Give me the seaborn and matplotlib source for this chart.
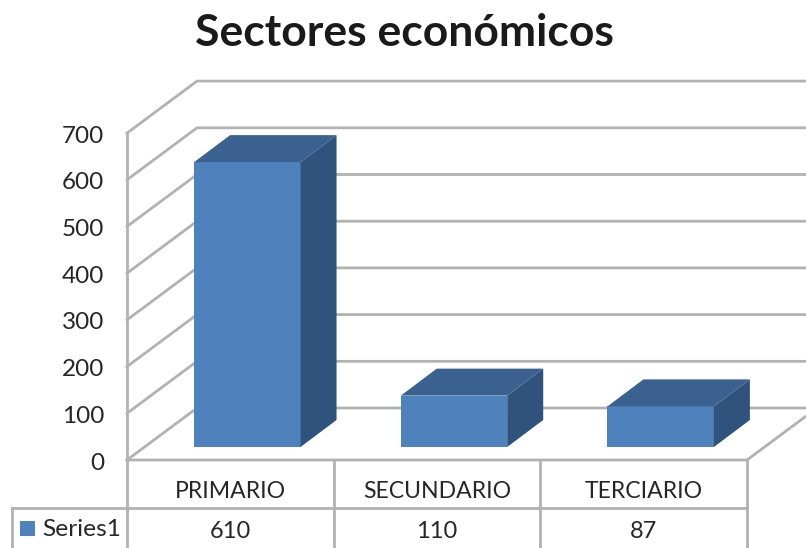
import matplotlib
matplotlib.use('Agg')
import matplotlib.pyplot as plt
import seaborn as sns
import pandas as pd

categories = ['PRIMARIO', 'SECUNDARIO', 'TERCIARIO']
values = [610, 110, 87]
series_name = 'Series1'
y_ticks = [0, 100, 200, 300, 400, 500, 600, 700]
title = 'Sectores económicos'

W, H = 806, 548
plt.rcParams['font.family'] = ['Lato', 'DejaVu Sans']
FRONT = '#4f81bd'
TOP = '#3a618f'
SIDE = '#30537d'
GRID = '#b2b2b2'
INK = '#262626'

# layout in pixels
x0, x1 = 127, 747
y0 = 460
step = 46.7
dx, dy = 70, 52
cell = (x1 - x0) / 3

fig = plt.figure(figsize=(W / 100, H / 100), dpi=100)

# background: walls, grid and data table, in pixel coords
bg = fig.add_axes([0, 0, 1, 1])
bg.set_xlim(0, W)
bg.set_ylim(H, 0)
bg.axis('off')

lw = 2.0
for t in y_ticks:
    y = y0 - step * t / 100
    bg.plot([x0, x0 + dx, W], [y, y - dy, y - dy], color=GRID, lw=lw, solid_joinstyle='miter')
    bg.text(104, y + 3, str(t), ha='right', va='center', fontsize=17.5, color=INK)

y_top = y0 - step * max(y_ticks) / 100
bg.plot([x0, x0], [y_top, H], color=GRID, lw=lw)
bg.plot([x0, x1, W], [y0, y0, y0 - dy * (W - x1) / dx], color=GRID, lw=lw)

# data table
row = 508
bg.plot([12, x1], [row, row], color=GRID, lw=lw)
bg.plot([12, 12], [row, H], color=GRID, lw=lw)
for i in range(1, 4):
    bg.plot([x0 + cell * i] * 2, [y0, H], color=GRID, lw=lw)
for i, (c, v) in enumerate(zip(categories, values)):
    xc = x0 + cell * (i + 0.5)
    bg.text(xc, 492, c, ha='center', va='center', fontsize=16.6, color=INK)
    bg.text(xc, 531, str(v), ha='center', va='center', fontsize=17, color=INK)
bg.add_patch(plt.Rectangle((20, 521), 15, 15, color=FRONT, lw=0))
bg.text(42, 529, series_name, ha='left', va='center', fontsize=17.6, color=INK)

bg.text(404, 33, title, ha='center', va='center', fontsize=32, fontweight='bold', color='#1a1a1a')

# bars: plane sits a bit behind the front of the floor
off_x, off_y = 17, 13
depth_x, depth_y = 36, 27
plane_h = step * 7
ax = fig.add_axes([(x0 + off_x) / W, (H - y0 + off_y) / H, (x1 - x0) / W, plane_h / H])
ax.patch.set_alpha(0)

df = pd.DataFrame({'sector': categories, 'valor': values})
sns.barplot(data=df, x='sector', y='valor', color=FRONT, saturation=1, width=0.515, ax=ax)
ax.set_xlim(-0.5, 2.5)
ax.set_ylim(0, 700)
ax.axis('off')

# extrude each bar for the 3d look
ddx = depth_x * 3 / (x1 - x0)
ddy = depth_y * 700 / plane_h
for p in list(ax.patches):
    l, w, h = p.get_x(), p.get_width(), p.get_height()
    r = l + w
    ax.fill([r, r + ddx, r + ddx, r], [0, ddy, h + ddy, h], color=SIDE, lw=0, clip_on=False)
    ax.fill([l, l + ddx, r + ddx, r], [h, h + ddy, h + ddy, h], color=TOP, lw=0, clip_on=False)

fig.savefig('out.png', dpi=100)
